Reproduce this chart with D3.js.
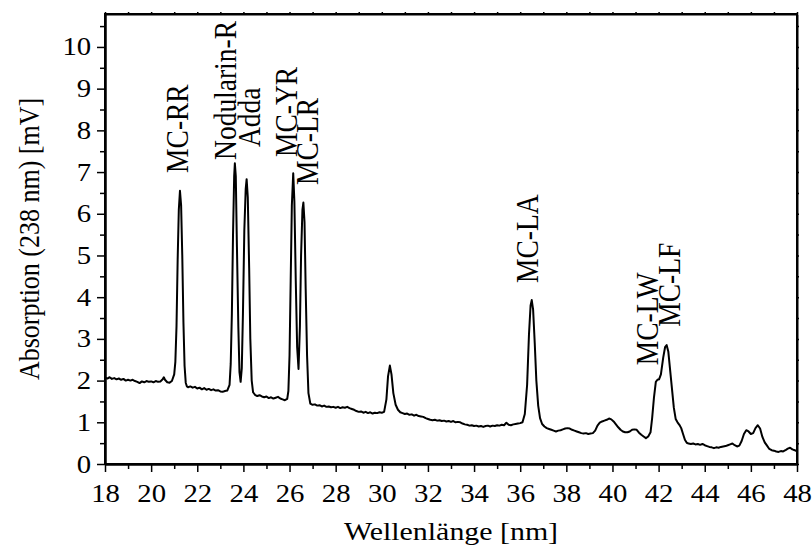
<!DOCTYPE html>
<html>
<head>
<meta charset="utf-8">
<script src="https://cdn.jsdelivr.net/npm/d3@7"></script>
<style>
  body { margin: 0; background: #fff; }
  text { font-family: "Liberation Serif", "Times New Roman", serif; fill: #000; }
</style>
</head>
<body>
<div id="chart"></div>
<script>
'use strict';

// trace
const wavelength = [
  18.0, 18.1, 18.2, 18.3, 18.4, 18.5, 18.6, 18.7, 18.8, 18.9,
  19.0, 19.1, 19.2, 19.3, 19.4, 19.5, 19.6, 19.7, 19.8, 19.9,
  20.0, 20.1, 20.2, 20.3, 20.4, 20.5, 20.55, 20.6, 20.7, 20.8, 20.9,
  21.0, 21.05, 21.1, 21.15, 21.2, 21.25, 21.3, 21.35, 21.4, 21.45, 21.5, 21.55, 21.6,
  21.7, 21.8, 21.9, 22.0, 22.1, 22.2, 22.3, 22.4, 22.5, 22.6, 22.7, 22.8, 22.9,
  23.0, 23.1, 23.2, 23.3, 23.4, 23.45, 23.5, 23.55, 23.6, 23.63, 23.67, 23.72, 23.78, 23.83,
  23.88, 23.93, 23.98, 24.04, 24.1, 24.14, 24.19, 24.25, 24.3, 24.36, 24.42,
  24.5, 24.6, 24.7, 24.8, 24.9, 25.0, 25.1, 25.2, 25.3, 25.4, 25.5, 25.6, 25.7, 25.8, 25.9,
  25.95, 26.0, 26.05, 26.1, 26.16, 26.21, 26.27, 26.33, 26.39, 26.45, 26.5, 26.56, 26.6,
  26.65, 26.7, 26.76, 26.82, 26.9,
  27.0, 27.1, 27.2, 27.3, 27.4, 27.5, 27.6, 27.7, 27.8, 27.9,
  28.0, 28.1, 28.2, 28.3, 28.4, 28.5, 28.6, 28.7, 28.8, 28.9,
  29.0, 29.1, 29.2, 29.3, 29.4, 29.5, 29.6, 29.7, 29.8, 29.9,
  30.0, 30.1, 30.2, 30.27, 30.35, 30.42, 30.5, 30.6, 30.7, 30.8, 30.9,
  31.0, 31.1, 31.2, 31.3, 31.4, 31.5, 31.6, 31.7, 31.8, 31.9,
  32.0, 32.1, 32.2, 32.3, 32.4, 32.5, 32.6, 32.7, 32.8, 32.9,
  33.0, 33.1, 33.2, 33.3, 33.4, 33.5, 33.6, 33.7, 33.8, 33.9,
  34.0, 34.1, 34.2, 34.3, 34.4, 34.5, 34.6, 34.7, 34.8, 34.9,
  35.0, 35.1, 35.2, 35.3, 35.4, 35.5, 35.6, 35.7, 35.8, 35.9,
  36.0, 36.1, 36.2, 36.3, 36.38, 36.45, 36.5, 36.56, 36.63, 36.7, 36.78, 36.86, 36.95,
  37.05, 37.15, 37.25, 37.35, 37.45, 37.55, 37.65, 37.75, 37.85, 37.95,
  38.05, 38.15, 38.25, 38.35, 38.45, 38.55, 38.65, 38.75, 38.85, 38.95,
  39.05, 39.15, 39.25, 39.35, 39.45, 39.55, 39.65, 39.75, 39.85, 39.95,
  40.05, 40.15, 40.25, 40.35, 40.45, 40.55, 40.65, 40.75, 40.85, 40.95,
  41.05, 41.15, 41.25, 41.35, 41.45, 41.55, 41.65, 41.72, 41.8, 41.88, 41.95,
  42.02, 42.1, 42.2, 42.28, 42.35, 42.42, 42.5, 42.58, 42.66, 42.74, 42.82, 42.9, 42.98,
  43.06, 43.14, 43.22, 43.3, 43.4, 43.5, 43.6, 43.7, 43.8, 43.9,
  44.0, 44.1, 44.2, 44.3, 44.4, 44.5, 44.6, 44.7, 44.8, 44.9,
  45.0, 45.1, 45.2, 45.3, 45.4, 45.5, 45.6, 45.7, 45.8, 45.9,
  46.0, 46.1, 46.2, 46.3, 46.4, 46.5, 46.6, 46.7, 46.8, 46.9,
  47.0, 47.1, 47.2, 47.3, 47.4, 47.5, 47.6, 47.7, 47.8, 47.9, 48.0
];

const absorption = [
  2.07, 2.05, 2.08, 2.04, 2.06, 2.03, 2.05, 2.02, 2.04, 2.00,
  2.02, 2.00, 2.02, 1.99, 1.97, 1.94, 1.98, 1.96, 1.99, 1.97,
  1.98, 1.96, 1.99, 1.97, 1.98, 2.03, 2.08, 2.02, 1.96, 1.95, 1.99,
  2.15, 2.45, 3.3, 4.9, 6.1, 6.55, 6.2, 5.0, 3.4, 2.35, 1.95, 1.86, 1.84,
  1.86, 1.83, 1.85, 1.81, 1.83, 1.79, 1.82, 1.78, 1.80, 1.77, 1.79, 1.76, 1.77,
  1.74, 1.73, 1.75, 1.76, 1.9, 2.4, 3.6, 5.5, 6.9, 7.21, 6.9, 5.2, 3.3, 2.2,
  1.97, 2.3, 3.6, 5.6, 6.6, 6.83, 6.4, 4.7, 3.0, 2.0, 1.72,
  1.66, 1.63, 1.65, 1.62, 1.60, 1.62, 1.58, 1.60, 1.57, 1.59, 1.61, 1.57, 1.55, 1.53, 1.56,
  1.75, 2.6, 4.4, 6.2, 6.97, 6.3, 4.4, 2.8, 2.28, 3.3, 5.0, 6.1, 6.27,
  5.8, 4.2, 2.6, 1.7, 1.45,
  1.42, 1.43, 1.40, 1.41, 1.38, 1.40, 1.37, 1.38, 1.36, 1.37,
  1.35, 1.37, 1.34, 1.36, 1.35, 1.37, 1.34, 1.32, 1.30, 1.27,
  1.25, 1.26, 1.23, 1.25, 1.22, 1.24, 1.21, 1.23, 1.22, 1.24,
  1.23, 1.25, 1.55, 2.1, 2.36, 2.15, 1.7, 1.42, 1.30, 1.24, 1.22,
  1.20, 1.21, 1.18, 1.19, 1.16, 1.18, 1.15, 1.14, 1.13, 1.10,
  1.08, 1.06, 1.05, 1.06, 1.04, 1.05, 1.03, 1.04, 1.02, 1.03,
  1.01, 1.03, 1.00, 1.01, 1.00, 0.97, 0.95, 0.94, 0.92, 0.93,
  0.91, 0.92, 0.90, 0.91, 0.89, 0.91, 0.92, 0.90, 0.92, 0.91,
  0.93, 0.92, 0.94, 0.93, 0.99, 0.94, 0.93, 0.95, 0.96, 0.97,
  0.98, 1.0, 1.2, 1.9, 3.1, 3.8, 3.93, 3.7, 2.9, 2.0, 1.4, 1.1, 0.96,
  0.90, 0.86, 0.84, 0.82, 0.80, 0.78, 0.80, 0.81, 0.83, 0.85,
  0.86, 0.85, 0.82, 0.80, 0.78, 0.76, 0.74, 0.73, 0.74, 0.72,
  0.73, 0.74, 0.80, 0.92, 0.99, 1.02, 1.04, 1.06, 1.09, 1.07,
  1.02, 0.95, 0.88, 0.82, 0.78, 0.76, 0.76, 0.78, 0.82, 0.83,
  0.82, 0.75, 0.70, 0.66, 0.62, 0.66, 0.76, 1.1, 1.6, 1.97, 2.02,
  2.03, 2.15, 2.55, 2.8, 2.85, 2.7, 2.25, 1.8, 1.35, 1.08, 1.0, 0.94, 0.86,
  0.72, 0.58, 0.51, 0.49, 0.48, 0.49, 0.47, 0.48, 0.46, 0.48,
  0.45, 0.43, 0.41, 0.40, 0.38, 0.40, 0.39, 0.41, 0.42, 0.43,
  0.45, 0.47, 0.49, 0.45, 0.42, 0.44, 0.55, 0.72, 0.81, 0.78,
  0.72, 0.74, 0.86, 0.93, 0.85, 0.65, 0.52, 0.44, 0.36, 0.33,
  0.32, 0.30, 0.29, 0.31, 0.30, 0.33, 0.37, 0.39, 0.35, 0.33, 0.30
];

// peak annotations: name, where the label's foot sits (data units)
const peakNames = ['MC-RR', 'Nodularin-R', 'Adda', 'MC-YR', 'MC-LR', 'MC-LA', 'MC-LW', 'MC-LF'];
const peakLabelX = [21.6, 23.68, 24.72, 26.32, 27.23, 36.77, 41.97, 42.92];
const peakLabelY = [6.98, 7.29, 7.60, 7.36, 6.69, 4.34, 2.37, 3.29];

const xTicks = [18, 20, 22, 24, 26, 28, 30, 32, 34, 36, 38, 40, 42, 44, 46, 48];
const yTicks = [0, 1, 2, 3, 4, 5, 6, 7, 8, 9, 10];
const xLabel = 'Wellenlänge [nm]';
const yLabel = 'Absorption (238 nm) [mV]';

const width = 812;
const height = 549;
const margin = { top: 14, right: 15, bottom: 85, left: 105 };
const innerW = width - margin.left - margin.right;
const innerH = height - margin.top - margin.bottom;
const stretch = 1.15; // the source figure's lettering is a bit wide
const serif = '"Liberation Serif", "Times New Roman", serif';

const svg = d3.select('#chart')
  .append('svg')
  .attr('width', width)
  .attr('height', height);

const g = svg.append('g')
  .attr('transform', `translate(${margin.left},${margin.top})`);

const x = d3.scaleLinear().domain([18, 48]).range([0, innerW]);
const y = d3.scaleLinear().domain([0, 10.79]).range([innerH, 0]);

const xMinor = d3.range(19, 48, 2);
const yMinor = d3.range(0.5, 10.6, 1);

function styleAxis(sel) {
  sel.attr('font-family', serif).attr('font-size', 25);
  sel.select('.domain').attr('stroke', '#000').attr('stroke-width', 2);
  sel.selectAll('.tick line').attr('stroke', '#000').attr('stroke-width', 1.5);
  sel.selectAll('.tick text').attr('fill', '#000');
}

// bottom axis
g.append('g')
  .attr('transform', `translate(0,${innerH})`)
  .call(d3.axisBottom(x).tickValues(xTicks).tickSize(8).tickSizeOuter(0).tickPadding(12).tickFormat(d3.format('d')))
  .call(styleAxis)
  .selectAll('.tick text')
  .attr('transform', `scale(${stretch},1)`);
g.append('g')
  .attr('transform', `translate(0,${innerH})`)
  .call(d3.axisBottom(x).tickValues(xMinor).tickSize(5).tickSizeOuter(0).tickFormat(''))
  .call(styleAxis);

// left axis
g.append('g')
  .call(d3.axisLeft(y).tickValues(yTicks).tickSize(8).tickSizeOuter(0).tickPadding(4).tickFormat(d3.format('d')))
  .call(styleAxis)
  .selectAll('.tick text')
  .attr('transform', `scale(${stretch},1)`);
g.append('g')
  .call(d3.axisLeft(y).tickValues(yMinor).tickSize(5).tickSizeOuter(0).tickFormat(''))
  .call(styleAxis);

// top and right axes, tiny ticks
g.append('g')
  .call(d3.axisTop(x).tickValues(xTicks.concat(xMinor)).tickSize(2).tickSizeOuter(0).tickFormat(''))
  .call(styleAxis);
g.append('g')
  .attr('transform', `translate(${innerW},0)`)
  .call(d3.axisRight(y).tickValues(yTicks.concat(yMinor)).tickSize(2).tickSizeOuter(0).tickFormat(''))
  .call(styleAxis);

// frame
g.append('rect')
  .attr('width', innerW)
  .attr('height', innerH)
  .attr('fill', 'none')
  .attr('stroke', '#000')
  .attr('stroke-width', 2);

// trace
const points = wavelength.map((w, i) => [w, absorption[i]]);
const line = d3.line()
  .x(d => x(d[0]))
  .y(d => y(d[1]));

g.append('path')
  .datum(points)
  .attr('fill', 'none')
  .attr('stroke', '#000')
  .attr('stroke-width', 2)
  .attr('stroke-linejoin', 'round')
  .attr('d', line);

// peak labels
g.selectAll('.peak-label')
  .data(peakNames)
  .enter()
  .append('text')
  .attr('class', 'peak-label')
  .attr('transform', (d, i) => `translate(${x(peakLabelX[i])},${y(peakLabelY[i])}) scale(${stretch},1) rotate(-90)`)
  .attr('font-family', serif)
  .attr('font-size', 27.5)
  .text(d => d);

// axis titles
svg.append('text')
  .attr('transform', `translate(${margin.left + innerW / 2},540) scale(${stretch},1)`)
  .attr('text-anchor', 'middle')
  .attr('font-family', serif)
  .attr('font-size', 26)
  .text(xLabel);

svg.append('text')
  .attr('transform', `translate(39,${margin.top + innerH / 2}) scale(${stretch},1) rotate(-90)`)
  .attr('text-anchor', 'middle')
  .attr('font-family', serif)
  .attr('font-size', 26)
  .text(yLabel);
</script>
</body>
</html>
